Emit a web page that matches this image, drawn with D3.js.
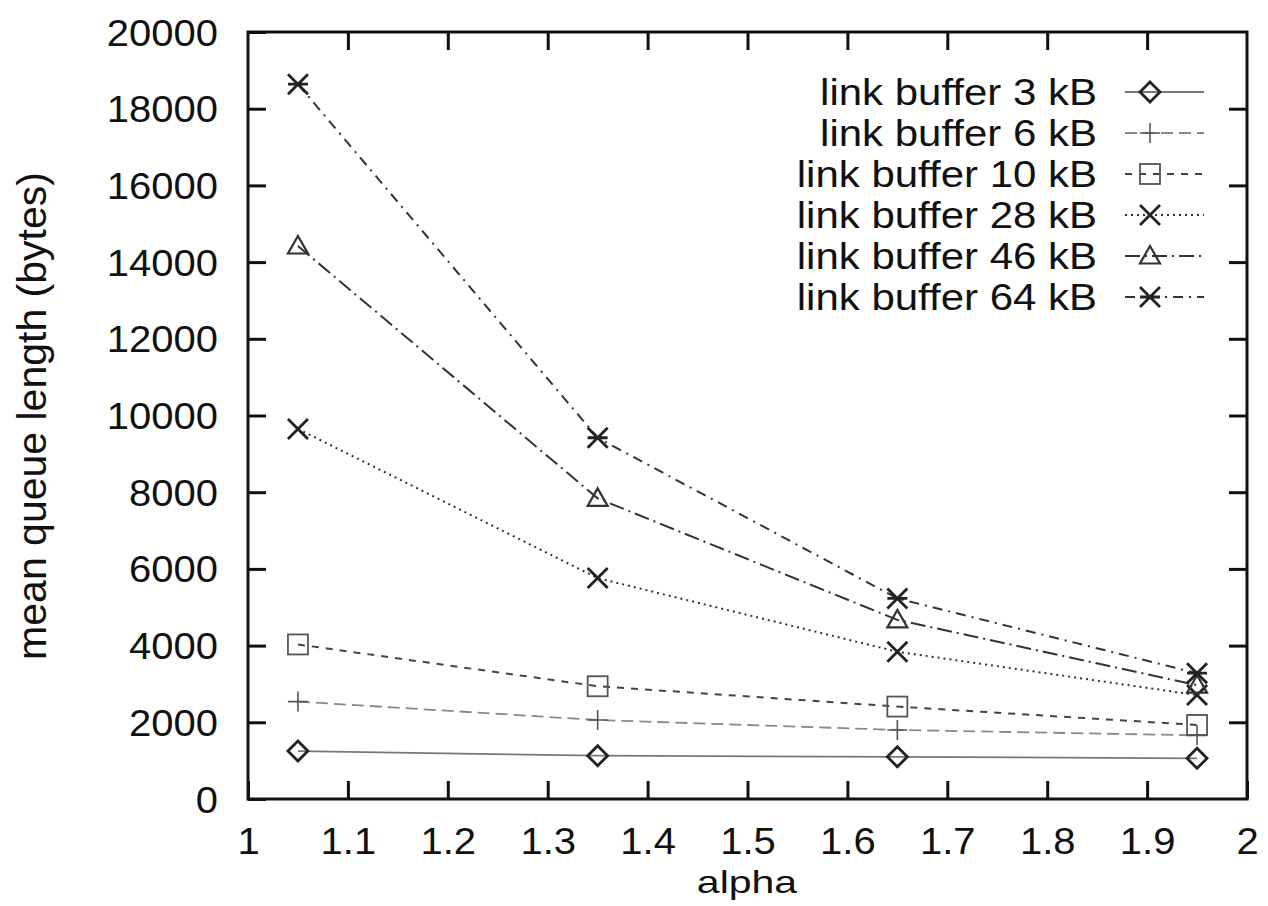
<!DOCTYPE html>
<html>
<head>
<meta charset="utf-8">
<script src="https://cdn.jsdelivr.net/npm/d3@7/dist/d3.min.js"></script>
<style>
  html, body { margin: 0; padding: 0; background: #fff; }
  svg { display: block; }
  text { font-family: "Liberation Sans", Arial, Helvetica, sans-serif; fill: #111; }
</style>
</head>
<body>
<svg id="chart" width="1268" height="906"></svg>
<script>
// alpha values where each run was measured
const alphas = [1.05, 1.35, 1.65, 1.95];

// mean queue length (bytes) per link buffer size
const buf3kB  = [1250, 1130, 1100, 1060];
const buf6kB  = [2540, 2060, 1800, 1660];
const buf10kB = [4030, 2940, 2410, 1930];
const buf28kB = [9650, 5760, 3840, 2710];
const buf46kB = [14420, 7840, 4670, 2970];
const buf64kB = [18640, 9420, 5230, 3280];

const seriesNames = ["link buffer 3 kB", "link buffer 6 kB", "link buffer 10 kB",
                     "link buffer 28 kB", "link buffer 46 kB", "link buffer 64 kB"];
const seriesValues = [buf3kB, buf6kB, buf10kB, buf28kB, buf46kB, buf64kB];

const xTicks = [1, 1.1, 1.2, 1.3, 1.4, 1.5, 1.6, 1.7, 1.8, 1.9, 2];
const yTicks = [0, 2000, 4000, 6000, 8000, 10000, 12000, 14000, 16000, 18000, 20000];

// gnuplot-like line types and point types
const styles = [
  { dash: null,         stroke: "#777", width: 1.8, marker: "diamond" },
  { dash: "12,6",       stroke: "#888", width: 1.8, marker: "plus" },
  { dash: "7,7",        stroke: "#444", width: 2,   marker: "square" },
  { dash: "2,4",        stroke: "#333", width: 2,   marker: "cross" },
  { dash: "15,5,2,5",   stroke: "#333", width: 2,   marker: "triangle" },
  { dash: "10,6,2,6",   stroke: "#333", width: 2,   marker: "star" }
];

const svg = d3.select("#chart");
const plotLeft = 248, plotRight = 1247, plotTop = 32, plotBottom = 799;

const x = d3.scaleLinear().domain([1, 2]).range([plotLeft, plotRight]);
const y = d3.scaleLinear().domain([0, 20000]).range([plotBottom, plotTop]);

const fmtX = d => (d === 1 || d === 2) ? String(d) : d3.format(".1f")(d);

// axes: ticks point inward on all four sides
const axisStyle = g => {
  g.select(".domain").remove();
  g.selectAll(".tick line").attr("stroke", "#111").attr("stroke-width", 3);
};

svg.append("g").attr("transform", `translate(0,${plotBottom})`)
  .call(d3.axisBottom(x).tickValues(xTicks).tickSize(-18).tickFormat(fmtX))
  .call(axisStyle)
  .call(g => g.selectAll(".tick text")
    .attr("y", null).attr("dy", null)
    .attr("font-size", 40)
    .attr("transform", "translate(0,55) scale(1,0.9)"));

svg.append("g").attr("transform", `translate(0,${plotTop})`)
  .call(d3.axisTop(x).tickValues(xTicks.slice(1, -1)).tickSize(-18).tickFormat(""))
  .call(axisStyle);

svg.append("g").attr("transform", `translate(${plotLeft},0)`)
  .call(d3.axisLeft(y).tickValues(yTicks).tickSize(-18).tickFormat(d3.format("d")))
  .call(axisStyle)
  .call(g => g.selectAll(".tick text")
    .attr("x", null).attr("dy", null)
    .attr("font-size", 40)
    .attr("text-anchor", "end")
    .attr("transform", "translate(-30,13) scale(1,0.9)"));

svg.append("g").attr("transform", `translate(${plotRight},0)`)
  .call(d3.axisRight(y).tickValues(yTicks.slice(1, -1)).tickSize(-18).tickFormat(""))
  .call(axisStyle);

// plot frame
svg.append("rect")
  .attr("x", plotLeft).attr("y", plotTop)
  .attr("width", plotRight - plotLeft).attr("height", plotBottom - plotTop)
  .attr("fill", "none").attr("stroke", "#111").attr("stroke-width", 3);

// axis titles
svg.append("text")
  .attr("text-anchor", "middle")
  .attr("font-size", 41)
  .attr("transform", "translate(747,893) scale(1,0.78)")
  .text("alpha");

svg.append("text")
  .attr("text-anchor", "middle")
  .attr("font-size", 41)
  .attr("transform", "translate(46,416) rotate(-90)")
  .text("mean queue length (bytes)");

// point symbols
function drawMarker(g, type, cx, cy) {
  const s = 10;
  const p = g.append("g").attr("transform", `translate(${cx},${cy})`)
    .attr("fill", "none").attr("stroke", "#222").attr("stroke-width", 2);
  if (type === "diamond") {
    p.append("path").attr("d", `M0,${-s}L${s},0L0,${s}L${-s},0Z`).attr("stroke-width", 2.8);
  } else if (type === "plus") {
    p.append("path").attr("d", `M${-s},0H${s}M0,${-s}V${s}`).attr("stroke", "#555").attr("stroke-width", 1.6);
  } else if (type === "square") {
    p.append("rect").attr("x", -s).attr("y", -s).attr("width", 2 * s).attr("height", 2 * s)
      .attr("stroke", "#555").attr("stroke-width", 1.8);
  } else if (type === "cross") {
    p.append("path").attr("d", `M${-s},${-s}L${s},${s}M${-s},${s}L${s},${-s}`).attr("stroke-width", 2.8);
  } else if (type === "triangle") {
    p.append("path").attr("d", `M0,${-s}L${s},${s * 0.75}L${-s},${s * 0.75}Z`).attr("stroke", "#333").attr("stroke-width", 2.2);
  } else if (type === "star") {
    p.append("path").attr("d", `M${-s},${-s}L${s},${s}M${-s},${s}L${s},${-s}M${-s},0H${s}`).attr("stroke-width", 2.8);
  }
}

const line = d3.line().x((d, i) => x(alphas[i])).y(d => y(d));

seriesValues.forEach((vals, k) => {
  const st = styles[k];
  svg.append("path")
    .datum(vals)
    .attr("d", line)
    .attr("fill", "none")
    .attr("stroke", st.stroke)
    .attr("stroke-width", st.width)
    .attr("stroke-dasharray", st.dash);
  const mg = svg.append("g");
  vals.forEach((v, i) => drawMarker(mg, st.marker, x(alphas[i]), y(v)));
});

// legend
const legendY = d3.scaleLinear().domain([0, 5]).range([92, 297]);
seriesNames.forEach((name, k) => {
  const st = styles[k];
  const cy = legendY(k);
  svg.append("text")
    .attr("text-anchor", "end")
    .attr("font-size", 42)
    .attr("transform", `translate(1097,${cy + 13}) scale(1,0.9)`)
    .text(name);
  svg.append("line")
    .attr("x1", 1125).attr("x2", 1204).attr("y1", cy).attr("y2", cy)
    .attr("stroke", st.stroke).attr("stroke-width", st.width)
    .attr("stroke-dasharray", st.dash);
  drawMarker(svg, st.marker, 1150, cy);
});
</script>
</body>
</html>
